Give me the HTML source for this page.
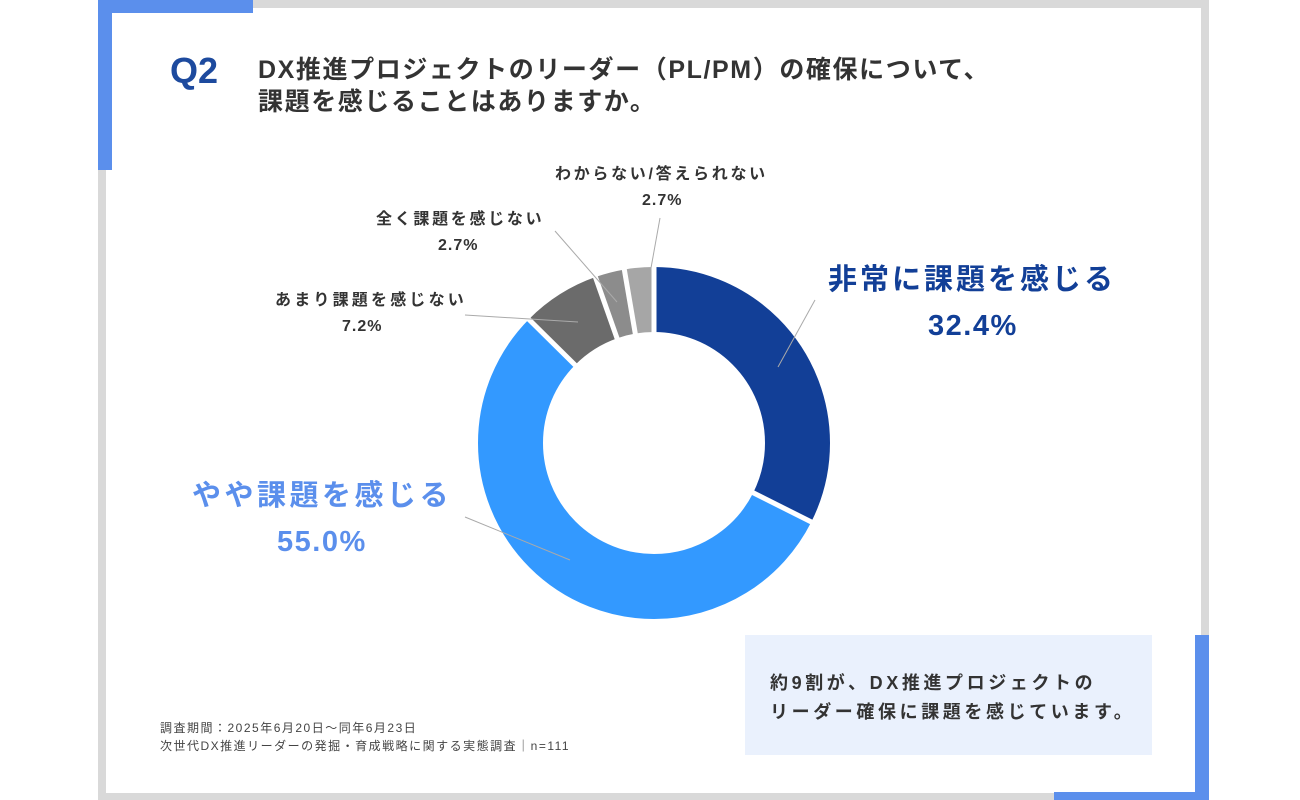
<!DOCTYPE html>
<html><head><meta charset="utf-8"><style>
body{margin:0;width:1300px;height:800px;background:#fff;overflow:hidden;position:relative;font-family:"Liberation Sans","Noto Sans CJK JP",sans-serif;}
.a{position:absolute;}
.t{position:absolute;white-space:nowrap;}
.s{font-size:16px;font-weight:bold;color:#333;letter-spacing:3.2px}
</style></head><body>
<div class="a" style="left:98px;top:0;width:1111px;height:8px;background:#d9d9d9"></div>
<div class="a" style="left:98px;top:0;width:8px;height:800px;background:#d9d9d9"></div>
<div class="a" style="left:1201px;top:0;width:8px;height:800px;background:#d9d9d9"></div>
<div class="a" style="left:98px;top:793px;width:1111px;height:7px;background:#d9d9d9"></div>
<div class="a" style="left:98px;top:0;width:155px;height:13px;background:#5b8fec"></div>
<div class="a" style="left:98px;top:0;width:14px;height:170px;background:#5b8fec"></div>
<div class="a" style="left:1195px;top:635px;width:14px;height:165px;background:#5b8fec"></div>
<div class="a" style="left:1054px;top:792px;width:155px;height:8px;background:#5b8fec"></div>

<div class="t" style="left:170px;top:50px;font-size:36px;font-weight:bold;color:#1d4a9e">Q2</div>
<div class="t" style="left:258px;top:54px;font-size:25px;font-weight:bold;color:#333;line-height:32px;letter-spacing:1.6px">DX推進プロジェクトのリーダー（PL/PM）の確保について、<br>課題を感じることはありますか。</div>

<svg class="a" style="left:0;top:0" width="1300" height="800">
<g transform="rotate(-90 654 443)" fill="none" stroke-width="65">
<circle cx="654" cy="443" r="143.5" stroke="#123f97" stroke-dasharray="292.1 2000"/>
<circle cx="654" cy="443" r="143.5" stroke="#3399ff" stroke-dasharray="0 292.1 495.9 2000"/>
<circle cx="654" cy="443" r="143.5" stroke="#6b6b6b" stroke-dasharray="0 788 64.9 2000"/>
<circle cx="654" cy="443" r="143.5" stroke="#8c8c8c" stroke-dasharray="0 852.9 24.35 2000"/>
<circle cx="654" cy="443" r="143.5" stroke="#a6a6a6" stroke-dasharray="0 877.25 24.35 2000"/>
</g>
<g stroke="#fff" stroke-width="5">
<line x1="654" y1="443" x2="654" y2="258"/>
<line x1="654" y1="443" x2="819.4" y2="526"/>
<line x1="654" y1="443" x2="522.4" y2="313"/>
<line x1="654" y1="443" x2="592.4" y2="268.5"/>
<line x1="654" y1="443" x2="622.8" y2="260.7"/>
</g>
<circle cx="654" cy="443" r="110" fill="#fff"/>
<g stroke="#aaa" stroke-width="1" fill="none">
<line x1="778" y1="367" x2="815" y2="300"/>
<line x1="465" y1="517" x2="570" y2="560"/>
<line x1="465" y1="315" x2="578" y2="322"/>
<line x1="555" y1="231" x2="617" y2="302"/>
<line x1="660" y1="218" x2="651" y2="268"/>
</g>
</svg>

<div class="t" style="left:828px;top:256px;font-size:29px;font-weight:bold;color:#123f97;letter-spacing:3px">非常に課題を感じる</div>
<div class="t" style="left:928px;top:310px;font-size:29px;font-weight:bold;color:#123f97;letter-spacing:1.5px">32.4%</div>
<div class="t" style="left:192px;top:472px;font-size:29px;font-weight:bold;color:#5b8fec;letter-spacing:3.5px">やや課題を感じる</div>
<div class="t" style="left:277px;top:526px;font-size:29px;font-weight:bold;color:#5b8fec;letter-spacing:1.5px">55.0%</div>
<div class="t s" style="left:275px;top:286px">あまり課題を感じない</div>
<div class="t s" style="left:342px;top:318px;letter-spacing:1px">7.2%</div>
<div class="t s" style="left:376px;top:205px;letter-spacing:2.7px">全く課題を感じない</div>
<div class="t s" style="left:438px;top:237px;letter-spacing:1px">2.7%</div>
<div class="t s" style="left:555px;top:160px;letter-spacing:2.7px">わからない/答えられない</div>
<div class="t s" style="left:642px;top:192px;letter-spacing:1px">2.7%</div>

<div class="a" style="left:745px;top:635px;width:407px;height:120px;background:#eaf1fd"></div>
<div class="t" style="left:770px;top:669px;font-size:18px;font-weight:bold;color:#333;line-height:29px;letter-spacing:3.6px">約9割が、DX推進プロジェクトの<br>リーダー確保に課題を感じています。</div>

<div class="t" style="left:160px;top:719px;font-size:12px;color:#444;line-height:18px;letter-spacing:1.5px">調査期間：2025年6月20日～同年6月23日<br>次世代DX推進リーダーの発掘・育成戦略に関する実態調査｜n=111</div>
</body></html>
